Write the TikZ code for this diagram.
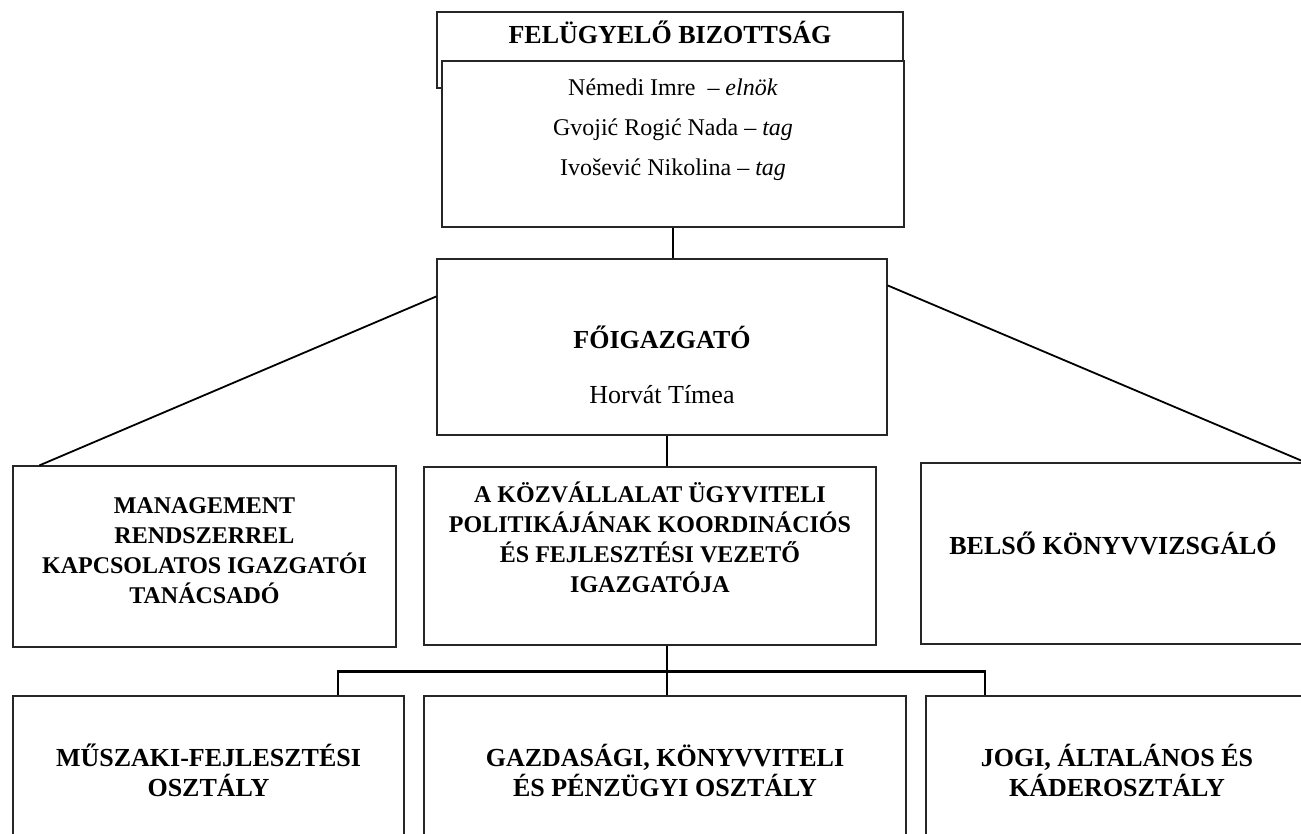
\documentclass[tikz,border=0pt]{standalone}
\usepackage{fontspec}
\setmainfont{Liberation Serif}
\usetikzlibrary{calc}

\begin{document}
\begin{tikzpicture}[x=1pt,y=-1pt,
		box/.style={draw=black!85, line width=1.2pt, fill=white, align=center, inner sep=0pt},
		link/.style={line width=2pt},
		big/.style={font=\fontsize{26}{30}\selectfont\bfseries},
		small/.style={font=\fontsize{24}{29.7}\selectfont\bfseries}]
		\useasboundingbox (0,0) rectangle (1301,834);
		\clip (0,0) rectangle (1301,834);
		% board
		\node[box, big, minimum width=466pt, minimum height=76pt, text height=20pt, text depth=33pt] (fb) at (670,50) {FELÜGYELŐ BIZOTTSÁG};
		\node[box, font=\fontsize{24}{40}\selectfont, minimum width=462pt, minimum height=166pt, text height=100pt, text depth=37pt] (mb) at (673,144) {Némedi Imre ~– \textit{elnök}\\ Gvojić Rogić Nada – \textit{tag}\\ Ivošević Nikolina – \textit{tag}};
		\node[box, font=\fontsize{26}{55}\selectfont, minimum width=450pt, minimum height=176pt, text height=130pt, text depth=18pt] (fg) at (662,347) {\textbf{FŐIGAZGATÓ}\\ Horvát Tímea};
		% second row
		\node[box, small, minimum width=383pt, minimum height=181pt, text height=110pt, text depth=17pt] (mg) at (204.5,556.5) {MANAGEMENT\\ RENDSZERREL\\ KAPCSOLATOS IGAZGATÓI\\ TANÁCSADÓ};
		\node[box, small, minimum width=452pt, minimum height=178pt, text height=95pt, text depth=23pt] (kv) at (650,556) {A KÖZVÁLLALAT ÜGYVITELI\\ POLITIKÁJÁNAK KOORDINÁCIÓS\\ ÉS FEJLESZTÉSI VEZETŐ\\ IGAZGATÓJA};
		\node[box, big, minimum width=384pt, minimum height=181pt, text height=20pt, text depth=18pt] (bk) at (1113,553.5) {BELSŐ KÖNYVVIZSGÁLÓ};
		% departments
		\node[box, big, minimum width=391pt, minimum height=200pt, text height=45pt, text depth=45pt] (ms) at (208.5,796) {MŰSZAKI-FEJLESZTÉSI\\ OSZTÁLY};
		\node[box, big, minimum width=482pt, minimum height=200pt, text height=45pt, text depth=45pt] (gz) at (665,796) {GAZDASÁGI, KÖNYVVITELI\\ ÉS PÉNZÜGYI OSZTÁLY};
		\node[box, big, minimum width=382pt, minimum height=200pt, text height=45pt, text depth=45pt] (jg) at (1117,796) {JOGI, ÁLTALÁNOS ÉS\\ KÁDEROSZTÁLY};
		% lines
		\coordinate (spine) at (667,0);
		\coordinate (jL) at (338,671.5);
		\coordinate (jR) at (985,671.5);
		\draw[link] (mb.south) -- (mb.south |- fg.north);
		\draw[link] (fg.south -| spine) -- (kv.north -| spine);
		\draw[link] (kv.south -| spine) -- (gz.north -| spine);
		\draw[link, line width=2.5pt] (ms.north -| jL) |- (jR) -- (jg.north -| jR);
		\draw[line width=1.8pt] ($(fg.north west)+(0,38)$) -- ($(mg.north west)+(27,0)$);
		\draw[line width=1.8pt] ($(fg.north east)+(0,27)$) -- (bk.north east);
	\end{tikzpicture}
\end{document}
